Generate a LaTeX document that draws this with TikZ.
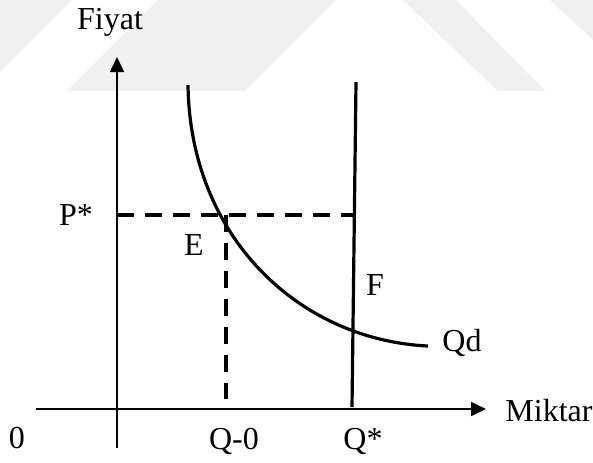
\documentclass[tikz,border=0pt]{standalone}
\usepackage{fontspec}
\setmainfont{Liberation Serif}
\usetikzlibrary{arrows.meta}
\definecolor{markcol}{gray}{0.94}
\tikzset{
  axis/.style={line width=0.8pt,-{Triangle[length=7.5pt,width=7pt]}},
  curve/.style={line width=1.6pt},
  guide/.style={line width=1.8pt,dash pattern=on 8.5pt off 5.5pt},
  lab/.style={font=\fontsize{16}{19}\selectfont,inner sep=0pt,anchor=base},
}

\begin{document}
\begin{tikzpicture}[x=0.5pt,y=-0.5pt]
  \useasboundingbox (0,0) rectangle (593,462);
  % faint background marks
  \fill[markcol] (0,0) -- (72,0) -- (0,72) -- cycle;
  \fill[markcol] (67,91) -- (158,0) -- (336,0) -- (245,91) -- cycle;
  \fill[markcol] (403,0) -- (456,0) -- (545,91) -- (498,91) -- cycle;
  \fill[markcol] (550,0) -- (593,0) -- (593,40) -- cycle;
  % axes
  \coordinate (xL) at (36,409);
  \coordinate (xR) at (486,409);
  \coordinate (yB) at (117,448);
  \coordinate (yT) at (117,57);
  \draw[axis] (xL) -- (xR);
  \draw[axis] (yB) -- (yT);
  % demand and supply
  \coordinate (dTop) at (188,85);
  \coordinate (dEnd) at (428,346);
  \coordinate (sTop) at (356,82);
  \coordinate (sBot) at (352,407);
  \draw[curve] (dTop) .. controls (190,238) and (300,340) .. (dEnd);
  \draw[curve] (sTop) -- (sBot);
  % price level
  \coordinate (pL) at (117,215);
  \coordinate (pR) at (355,215);
  \coordinate (qT) at (226,215);
  \coordinate (qB) at (226,399);
  \draw[guide] (pL) -- (pR);
  \draw[guide] (qT) -- (qB);
  % labels
  \node[lab] (fiyat) at (110,29) {Fiyat};
  \node[lab,anchor=base west] (miktar) at (505,421) {Miktar};
  \node[lab] (pstar) at (76,225) {P*};
  \node[lab] (e) at (194,255) {E};
  \node[lab] (f) at (375,295) {F};
  \node[lab] (qd) at (462,351) {Qd};
  \node[lab] (zero) at (17,448) {0};
  \node[lab] (qzero) at (234,449) {Q-0};
  \node[lab] (qstar) at (363,449) {Q*};
\end{tikzpicture}
\end{document}
